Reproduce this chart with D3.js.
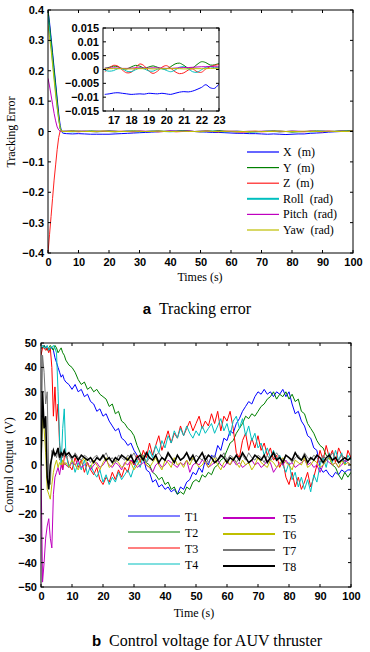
<!DOCTYPE html>
<html>
<head>
<meta charset="utf-8">
<script src="https://cdn.jsdelivr.net/npm/d3@7"></script>
<style>
  body { margin: 0; background: #fff; }
  svg text { fill: #000; }
  .tick-lab { font-family: "Liberation Sans", Arial, sans-serif; font-size: 11px; font-weight: bold; }
  .serif { font-family: "Liberation Serif", "Times New Roman", serif; }
</style>
</head>
<body>
<svg id="fig" width="370" height="652"></svg>
<script>
// ---------- top chart data (tracking error) ----------
const tTop = [0, 0.5, 1, 1.5, 2, 2.5, 3, 3.5, 4, 4.5, 5].concat(d3.range(6, 101, 2));
const errX = [0.40, 0.36, 0.31, 0.26, 0.21, 0.16, 0.11, 0.06, 0.02, -0.002, -0.006,
  -0.007, -0.008, -0.007, -0.008, -0.009, -0.009, -0.009, -0.009,
  -0.008, -0.007, -0.006, -0.005, -0.004, -0.003, -0.002, -0.001,
  0.000, 0.002, 0.001, 0.003, 0.002, 0.000, -0.001, -0.002,
  -0.003, -0.003, -0.004, -0.005, -0.006, -0.006, -0.007, -0.007,
  -0.008, -0.009, -0.008, -0.009, -0.010, -0.009, -0.008, -0.008,
  -0.006, -0.005, -0.004, -0.002, -0.001, 0.000, 0.001, 0.001];
const errY = [0.40, 0.35, 0.30, 0.25, 0.20, 0.15, 0.10, 0.05, 0.01, 0.001, 0.001,
  0.001, 0.002, 0.001, 0.000, 0.002, 0.001, 0.001, 0.002,
  0.001, 0.000, 0.001, 0.002, 0.001, 0.000, 0.001, 0.002,
  0.001, 0.000, 0.001, 0.002, 0.001, 0.000, 0.001, 0.002,
  0.001, 0.003, 0.001, 0.000, -0.001, 0.000, -0.002, -0.001,
  0.000, 0.001, 0.002, 0.001, 0.000, -0.002, -0.001, 0.000,
  0.001, 0.002, 0.001, 0.000, 0.001, 0.002, 0.002, 0.003];
const errZ = [-0.40, -0.34, -0.28, -0.22, -0.16, -0.11, -0.06, -0.02, 0.002, 0.001, 0.000,
  0.000, 0.001, -0.001, 0.001, 0.000, -0.001, 0.001, 0.000,
  -0.001, 0.001, 0.000, -0.001, 0.001, 0.000, 0.001, -0.001,
  0.000, 0.001, -0.001, 0.000, 0.001, 0.000, -0.001, 0.001,
  0.000, -0.001, 0.001, 0.000, -0.001, -0.002, 0.000, 0.001,
  -0.001, 0.000, 0.001, -0.001, 0.000, 0.001, 0.000, -0.001,
  0.001, 0.000, -0.001, 0.001, 0.000, 0.001, 0.000, 0.001];
const errRoll = [0.38, 0.33, 0.28, 0.23, 0.18, 0.13, 0.08, 0.04, 0.01, 0.000, -0.001,
  0.000, -0.001, 0.000, 0.001, 0.000, -0.001, 0.000, 0.000,
  -0.001, 0.000, 0.001, 0.000, -0.001, 0.000, 0.001, 0.000,
  0.000, -0.001, 0.000, 0.001, 0.000, 0.000, -0.001, 0.000,
  0.001, 0.000, -0.001, 0.000, 0.001, 0.000, 0.000, -0.001,
  0.000, 0.001, 0.000, -0.001, 0.000, 0.001, 0.000, 0.000,
  -0.001, 0.000, 0.001, 0.000, 0.000, 0.001, 0.000, 0.000];
const errPitch = [0.175, 0.15, 0.12, 0.09, 0.06, 0.035, 0.015, 0.005, 0.001, 0.0005, 0.0005,
  0.001, 0.000, 0.001, 0.001, 0.000, 0.001, 0.000, 0.001,
  0.001, 0.000, 0.001, 0.000, 0.001, 0.001, 0.000, 0.001,
  0.000, 0.001, 0.001, 0.000, 0.001, 0.000, 0.001, 0.001,
  0.000, 0.001, 0.000, 0.001, 0.001, 0.000, 0.001, 0.000,
  0.001, 0.001, 0.000, 0.001, 0.000, 0.001, 0.001, 0.000,
  0.001, 0.000, 0.001, 0.001, 0.000, 0.001, 0.000, 0.001];
const errYaw = [0.35, 0.31, 0.27, 0.22, 0.17, 0.12, 0.08, 0.04, 0.01, 0.000, 0.000,
  0.000, 0.000, 0.001, 0.000, 0.000, 0.000, 0.001, 0.000,
  0.000, 0.000, 0.000, 0.001, 0.000, 0.000, 0.000, 0.001,
  0.000, 0.000, 0.000, 0.001, 0.000, 0.000, 0.000, 0.001,
  0.000, 0.000, 0.000, 0.001, 0.000, 0.000, 0.000, 0.001,
  0.000, 0.000, 0.000, 0.001, 0.000, 0.000, 0.000, 0.001,
  0.000, 0.000, 0.000, 0.001, 0.000, 0.000, 0.000, 0.001];

// inset (zoomed window 16.5 - 23 s), values in units of 1e-3
const tInset = d3.range(16.5, 23.01, 0.25);
const insX = [-9.0, -8.8, -8.5, -8.4, -8.6, -8.8, -9.0, -8.9, -8.8, -8.9, -8.6, -8.7, -8.8, -8.6,
  -8.8, -9.0, -8.6, -8.2, -8.0, -8.1, -7.8, -7.2, -6.5, -5.5, -6.6, -6.8, -5.2];
const insY = [0.4, 0.8, 1.2, 1.0, 0.3, 0.2, 0.9, 1.5, 1.2, 0.5, 0.9, 1.3, 0.8, 0.3,
  0.2, 1.0, 2.0, 2.3, 1.5, 0.5, 0.6, 1.8, 2.8, 2.5, 1.6, 1.7, 2.2];
const insZ = [-0.8, 0.5, 1.5, 1.2, -0.2, -1.2, -1.0, 0.5, 2.0, 1.3, -0.5, -1.4, -0.6, 0.8,
  1.4, 0.5, -0.8, -1.5, -1.2, -0.2, 0.2, -0.8, -1.0, 0.2, 1.0, 1.5, 1.8];
const insRoll = [-0.3, -0.6, -0.4, 0.3, 0.2, -0.6, -0.8, -0.1, 0.5, 0.2, -0.5, -0.6, 0.1, 0.3,
  -0.3, -0.8, -0.2, 0.8, 1.0, 0.2, -0.8, -1.0, -0.1, 0.8, 1.0, 0.6, 0.8];
const insPitch = [0.5, 0.5, 0.6, 0.5, 0.4, 0.4, 0.5, 0.6, 0.6, 0.5, 0.5, 0.6, 0.6, 0.5,
  0.4, 0.4, 0.5, 0.6, 0.7, 0.7, 0.8, 0.9, 1.0, 1.0, 1.1, 1.0, 1.0];
const insYaw = [0.3, 0.3, 0.3, 0.3, 0.3, 0.2, 0.2, 0.3, 0.3, 0.3, 0.3, 0.2, 0.2, 0.3,
  0.3, 0.3, 0.3, 0.3, 0.2, 0.2, 0.3, 0.3, 0.3, 0.3, 0.4, 0.4, 0.4];

const topNames = ["X  (m)", "Y  (m)", "Z  (m)", "Roll  (rad)", "Pitch  (rad)", "Yaw  (rad)"];
const topColors = ["#0000ff", "#008000", "#ff2020", "#00bfbf", "#bf00bf", "#bfbf00"];
const topTicksY = [-0.4, -0.3, -0.2, -0.1, 0, 0.1, 0.2, 0.3, 0.4];
const insetTicksY = [-0.015, -0.01, -0.005, 0, 0.005, 0.01, 0.015];
const insetTicksX = [17, 18, 19, 20, 21, 22, 23];
const xTicks = [0, 10, 20, 30, 40, 50, 60, 70, 80, 90, 100];

// ---------- bottom chart data (thruster voltage) ----------
const tBot = [0, 0.5, 1, 1.5, 2, 2.5, 3, 3.5, 4, 4.5, 5, 5.5, 6, 6.5, 7, 7.5].concat(d3.range(8, 101, 1));
const volT1 = [48, 48, 49, 48, 48, 47, 48, 48, 47, 44, 42, 40, 38, 36, 37, 35,
  34, 33, 31, 33, 30, 31, 28, 29, 26, 25, 22, 23, 20,
  21, 18, 16, 14, 15, 11, 10, 8, 9, 6,
  4, 2, 3, -2, -3, -7, -6, -9, -8, -10,
  -9, -11, -10, -12, -9, -10, -7, -6, -3, -4,
  -1, -3, 2, 0, 4, 3, 8, 6, 11, 10,
  14, 13, 17, 19, 22, 24, 26, 25, 28, 30,
  29, 31, 29, 30, 28, 30, 29, 31, 28, 30,
  25, 21, 22, 18, 16, 12, 11, 7, 6, -1,
  -3, -2, -4, -5, -3, -4, -2, -3, -2, -2];
const volT2 = [48, 48, 49, 48, 47, 48, 49, 48, 47, 49, 48, 46, 47, 48, 46, 45,
  43, 41, 40, 38, 35, 33, 34, 31, 32, 30, 31, 29, 28,
  27, 24, 25, 21, 22, 18, 17, 15, 14, 12,
  8, 5, 3, 1, 0, -3, -4, -6, -5, -8,
  -7, -10, -9, -12, -11, -12, -9, -10, -7, -6,
  -7, -4, -5, -3, -4, -1, 0, 2, 3, 6,
  9, 10, 13, 15, 17, 20, 19, 21, 20, 22,
  24, 25, 27, 28, 30, 27, 29, 28, 30, 27,
  29, 26, 27, 22, 21, 17, 15, 13, 10, 8,
  7, 4, 3, 0, -1, -4, -6, -3, -5, -3];
const volT3 = [45, 48, 48, 47, 48, 46, 48, 40, 20, 32, 18, 25, 8, 4, -2, 3,
  5, 0, -2, 3, -1, 2, -3, 1, -2, -4, -1, -6, -8,
  -5, -7, -3, -6, -2, -5, -1, -3, 2, 0,
  4, 1, 6, 3, 9, 4, 8, 12, 6, 10,
  14, 9, 13, 11, 16, 12, 15, 18, 14, 17,
  20, 15, 18, 16, 21, 17, 22, 14, 20, 18,
  22, 15, 5, 3, 10, 13, 6, 11, 7, 12,
  6, 9, 4, 7, 2, 4, -1, 2, -5, -8,
  -3, -9, -5, -10, -7, -3, -9, -5, 0, 6,
  2, 8, 3, 6, 1, 7, 4, 0, 6, 3];
const volT4 = [48, 49, 48, 48, 49, 47, 48, 48, 49, 48, 46, 30, 10, 0, 15, 23,
  5, -1, 2, -3, 1, -2, 2, -4, 0, -3, -5, -2, -7,
  -4, -8, -5, -7, -3, -6, -4, -2, -5, -1,
  2, -1, 4, 1, 6, 3, 8, 5, 10, 7,
  12, 9, 14, 11, 15, 12, 16, 13, 11, 14,
  12, 16, 13, 15, 17, 13, 16, 19, 14, 17,
  12, 18, 20, 15, 19, 12, 16, 10, 13, 7,
  9, 4, 7, 3, 6, 2, 4, 0, -3, 1,
  -6, -3, -9, -5, -10, -6, -11, -4, -7, 0,
  3, -1, 5, 1, 6, 2, 5, 0, 4, 2];
const volT5 = [0, -48, -40, -30, -25, -22, -30, -34, -12, -5, -3, -1, -4, 0, -2, 1,
  0, -1, 1, 0, 2, -1, 0, 1, -2, 0, 1, -1, 0,
  2, 0, -1, 1, 0, -2, 1, 0, 2, 1,
  -1, 0, 1, 0, -1, -3, 0, 1, -1, 0,
  2, 1, 0, -1, 1, 0, 2, -3, 0, 1,
  0, 2, 1, -1, 0, 1, 2, 0, -1, 1,
  0, 2, 0, 1, -1, 0, 1, 2, 0, 1,
  -1, 0, 2, 1, -3, -1, 1, 0, 2, 0,
  1, -1, 0, 1, 2, 0, 1, -1, 0, -3,
  0, 2, 1, 0, 1, -1, 0, 2, 1, 0];
const volT6 = [0, 20, 15, 5, -10, -12, -14, -8, -3, 0, 2, -1, 1, 0, 2, 0,
  1, -1, 2, 0, -2, 1, 3, 0, -1, 2, 0, -2, 1,
  3, -1, 0, 2, 1, -1, 0, 3, 1, -2,
  0, 2, 4, 0, -1, 1, 3, 0, -2, 2,
  1, -1, 3, 0, 1, -1, 2, 0, 3, 1,
  -1, 0, 2, -1, 1, 3, 0, -2, 1, 2,
  0, 3, 1, -1, 2, 0, 1, -2, 0, 3,
  1, 0, -1, 2, 1, -1, 0, 3, 1, 0,
  -2, 2, 1, 0, 3, -1, 0, 2, 1, -1,
  0, 2, 3, 0, 1, -1, 2, 0, 1, 0];
const volT7 = [0, 45, 38, 25, 30, -5, -8, 6, 4, 5, 3, 6, 2, 4, 3, 5,
  3, 4, 2, 5, 3, 2, 4, 3, 1, 3, 4, 2, 3,
  5, 2, 3, 1, 4, 3, 2, 4, 3, 5,
  2, 3, 4, 1, 3, 2, 4, 5, 3, 2,
  4, 3, 1, 4, 2, 3, 5, 3, 2, 4,
  3, 2, 4, 1, 3, 4, 2, 3, 5, 2,
  4, 3, 1, 3, 4, 2, 5, 3, 2, 4,
  3, 1, 4, 2, 3, 5, 3, 2, 4, 3,
  1, 3, 4, 2, 5, 3, 2, 4, 3, 1,
  4, 2, 3, 5, 3, 2, 4, 3, 2, 3];
const volT8 = [0, 30, 15, 20, -5, -10, 0, 3, 6, 4, 5, 7, 3, 5, 4, 6,
  4, 5, 3, 4, 2, 4, 3, 2, 3, 1, 3, 2, 4,
  2, 3, 1, 3, 2, 4, 3, 2, 4, 1,
  3, 4, 2, 5, 3, 2, 4, 1, 3, 2,
  5, 3, 1, 4, 2, 3, 5, 2, 4, 1,
  3, 5, 2, 4, 3, 1, 2, 4, 3, 1,
  3, 2, 4, 2, 5, 3, 1, 2, 4, 3,
  2, 4, 1, 3, 5, 2, 3, 1, 4, 3,
  2, 5, 3, 2, 4, 1, 3, 2, 4, 3,
  1, 3, 4, 2, 3, 1, 2, 3, 2, 3];

const botNames = ["T1", "T2", "T3", "T4", "T5", "T6", "T7", "T8"];
const botColors = ["#0000ff", "#008000", "#ff0000", "#00bfbf", "#bf00bf", "#bfbf00", "#777777", "#000000"];
const botTicksY = [-50, -40, -30, -20, -10, 0, 10, 20, 30, 40, 50];

const svg = d3.select("#fig");

// draws a framed matlab-like box with inward ticks on all 4 sides
function drawFrame(g, x, y, xt, yt, tickLen) {
  const [x0, x1] = x.range();
  const [y0, y1] = y.range(); // y0 bottom
  g.append("g")
    .attr("transform", "translate(0," + y0 + ")")
    .call(d3.axisBottom(x).tickValues(xt).tickSize(0).tickPadding(5).tickFormat(d3.format("")))
    .call(a => a.select(".domain").remove());
  g.append("g")
    .attr("transform", "translate(" + x0 + ",0)")
    .call(d3.axisLeft(y).tickValues(yt).tickSize(0).tickPadding(4).tickFormat(d3.format("")))
    .call(a => a.select(".domain").remove());
  g.selectAll("g.tick text").attr("class", "tick-lab").attr("fill", "#000");
  g.selectAll("g").attr("font-size", null).attr("font-family", null);
  const ticks = g.append("g").attr("stroke", "#000").attr("stroke-width", 1);
  xt.forEach(v => {
    ticks.append("line").attr("x1", x(v)).attr("x2", x(v)).attr("y1", y0).attr("y2", y0 - tickLen);
    ticks.append("line").attr("x1", x(v)).attr("x2", x(v)).attr("y1", y1).attr("y2", y1 + tickLen);
  });
  yt.forEach(v => {
    ticks.append("line").attr("x1", x0).attr("x2", x0 + tickLen).attr("y1", y(v)).attr("y2", y(v));
    ticks.append("line").attr("x1", x1).attr("x2", x1 - tickLen).attr("y1", y(v)).attr("y2", y(v));
  });
  g.append("rect")
    .attr("x", x0).attr("y", y1).attr("width", x1 - x0).attr("height", y0 - y1)
    .attr("fill", "none").attr("stroke", "#000").attr("stroke-width", 1);
}

// ---------- top chart ----------
const topBox = { left: 48, right: 353, top: 10, bottom: 253 };
const xT = d3.scaleLinear().domain([0, 100]).range([topBox.left, topBox.right]);
const yT = d3.scaleLinear().domain([-0.4, 0.4]).range([topBox.bottom, topBox.top]);
const gTop = svg.append("g");
svg.append("clipPath").attr("id", "clipTop").append("rect")
  .attr("x", topBox.left).attr("y", topBox.top)
  .attr("width", topBox.right - topBox.left).attr("height", topBox.bottom - topBox.top);

const topSeries = [errX, errY, errZ, errRoll, errPitch, errYaw];
const lineTop = d3.line().x(d => xT(d[0])).y(d => yT(d[1]));
topSeries.forEach((s, i) => {
  gTop.append("path")
    .datum(tTop.map((t, j) => [t, s[j]]))
    .attr("d", lineTop)
    .attr("clip-path", "url(#clipTop)")
    .attr("fill", "none").attr("stroke", topColors[i]).attr("stroke-width", 1);
});
drawFrame(gTop.append("g"), xT, yT, xTicks, topTicksY, 3);

// inset
const insBox = { left: 103, right: 219, top: 28, bottom: 111 };
const xI = d3.scaleLinear().domain([16.4, 23]).range([insBox.left, insBox.right]);
const yI = d3.scaleLinear().domain([-0.015, 0.015]).range([insBox.bottom, insBox.top]);
const gIns = svg.append("g");
gIns.append("rect").attr("x", insBox.left).attr("y", insBox.top)
  .attr("width", insBox.right - insBox.left).attr("height", insBox.bottom - insBox.top).attr("fill", "#fff");
svg.append("clipPath").attr("id", "clipIns").append("rect")
  .attr("x", insBox.left).attr("y", insBox.top)
  .attr("width", insBox.right - insBox.left).attr("height", insBox.bottom - insBox.top);
const insSeries = [insX, insY, insZ, insRoll, insPitch, insYaw];
const lineIns = d3.line().x(d => xI(d[0])).y(d => yI(d[1] / 1000)).curve(d3.curveCatmullRom);
insSeries.forEach((s, i) => {
  gIns.append("path")
    .datum(tInset.map((t, j) => [t, s[j]]))
    .attr("d", lineIns)
    .attr("clip-path", "url(#clipIns)")
    .attr("fill", "none").attr("stroke", topColors[i]).attr("stroke-width", 1);
});
drawFrame(gIns.append("g"), xI, yI, insetTicksX, insetTicksY, 3);

// top legend
const legTop = svg.append("g").attr("class", "serif").attr("font-size", 12);
topNames.forEach((n, i) => {
  const yy = 152 + i * 15.6;
  legTop.append("line").attr("x1", 247).attr("x2", 279).attr("y1", yy).attr("y2", yy)
    .attr("stroke", topColors[i]).attr("stroke-width", i === 3 ? 2 : 1.2);
  legTop.append("text").attr("x", 283).attr("y", yy + 4).style("white-space", "pre").text(n);
});

svg.append("text").attr("class", "serif").attr("font-size", 12)
  .attr("x", 200).attr("y", 281).attr("text-anchor", "middle").text("Times (s)");
svg.append("text").attr("class", "serif").attr("font-size", 12)
  .attr("transform", "translate(15,132) rotate(-90)").attr("text-anchor", "middle").text("Tracking Error");

const capA = svg.append("text").attr("x", 197).attr("y", 314).attr("text-anchor", "middle")
  .style("white-space", "pre");
capA.append("tspan").attr("font-family", "Liberation Sans, Arial, sans-serif").attr("font-weight", "bold").attr("font-size", 15).text("a");
capA.append("tspan").attr("class", "serif").attr("font-size", 16).text("  Tracking error");

// ---------- bottom chart ----------
const botBox = { left: 41, right: 351, top: 343, bottom: 587 };
const xB = d3.scaleLinear().domain([0, 100]).range([botBox.left, botBox.right]);
const yB = d3.scaleLinear().domain([-50, 50]).range([botBox.bottom, botBox.top]);
const gBot = svg.append("g");
svg.append("clipPath").attr("id", "clipBot").append("rect")
  .attr("x", botBox.left).attr("y", botBox.top)
  .attr("width", botBox.right - botBox.left).attr("height", botBox.bottom - botBox.top);
const botSeries = [volT1, volT2, volT3, volT4, volT5, volT6, volT7, volT8];
const lineBot = d3.line().x(d => xB(d[0])).y(d => yB(d[1]));
botSeries.forEach((s, i) => {
  gBot.append("path")
    .datum(tBot.map((t, j) => [t, s[j]]))
    .attr("d", lineBot)
    .attr("clip-path", "url(#clipBot)")
    .attr("fill", "none").attr("stroke", botColors[i]).attr("stroke-width", i === 7 ? 1.6 : 1);
});
drawFrame(gBot.append("g"), xB, yB, xTicks, botTicksY, 3);

// bottom legend, two columns
const legBot = svg.append("g").attr("class", "serif").attr("font-size", 12);
botNames.forEach((n, i) => {
  const col = Math.floor(i / 4), row = i % 4;
  const yy = (col === 0 ? 516 : 518) + row * 16;
  const lx = col === 0 ? 128 : 223;
  legBot.append("line").attr("x1", lx).attr("x2", lx + 52).attr("y1", yy).attr("y2", yy)
    .attr("stroke", botColors[i]).attr("stroke-width", col === 0 ? 1.2 : 2);
  legBot.append("text").attr("x", col === 0 ? 185 : 283).attr("y", yy + 4.5).text(n);
});

svg.append("text").attr("class", "serif").attr("font-size", 12)
  .attr("x", 194).attr("y", 617).attr("text-anchor", "middle").text("Time (s)");
svg.append("text").attr("class", "serif").attr("font-size", 12)
  .attr("transform", "translate(13,465) rotate(-90)").attr("text-anchor", "middle")
  .style("white-space", "pre").text("Control Output  (V)");

const capB = svg.append("text").attr("x", 207).attr("y", 646).attr("text-anchor", "middle")
  .style("white-space", "pre");
capB.append("tspan").attr("font-family", "Liberation Sans, Arial, sans-serif").attr("font-weight", "bold").attr("font-size", 15).text("b");
capB.append("tspan").attr("class", "serif").attr("font-size", 16).text("  Control voltage for AUV thruster");
</script>
</body>
</html>
